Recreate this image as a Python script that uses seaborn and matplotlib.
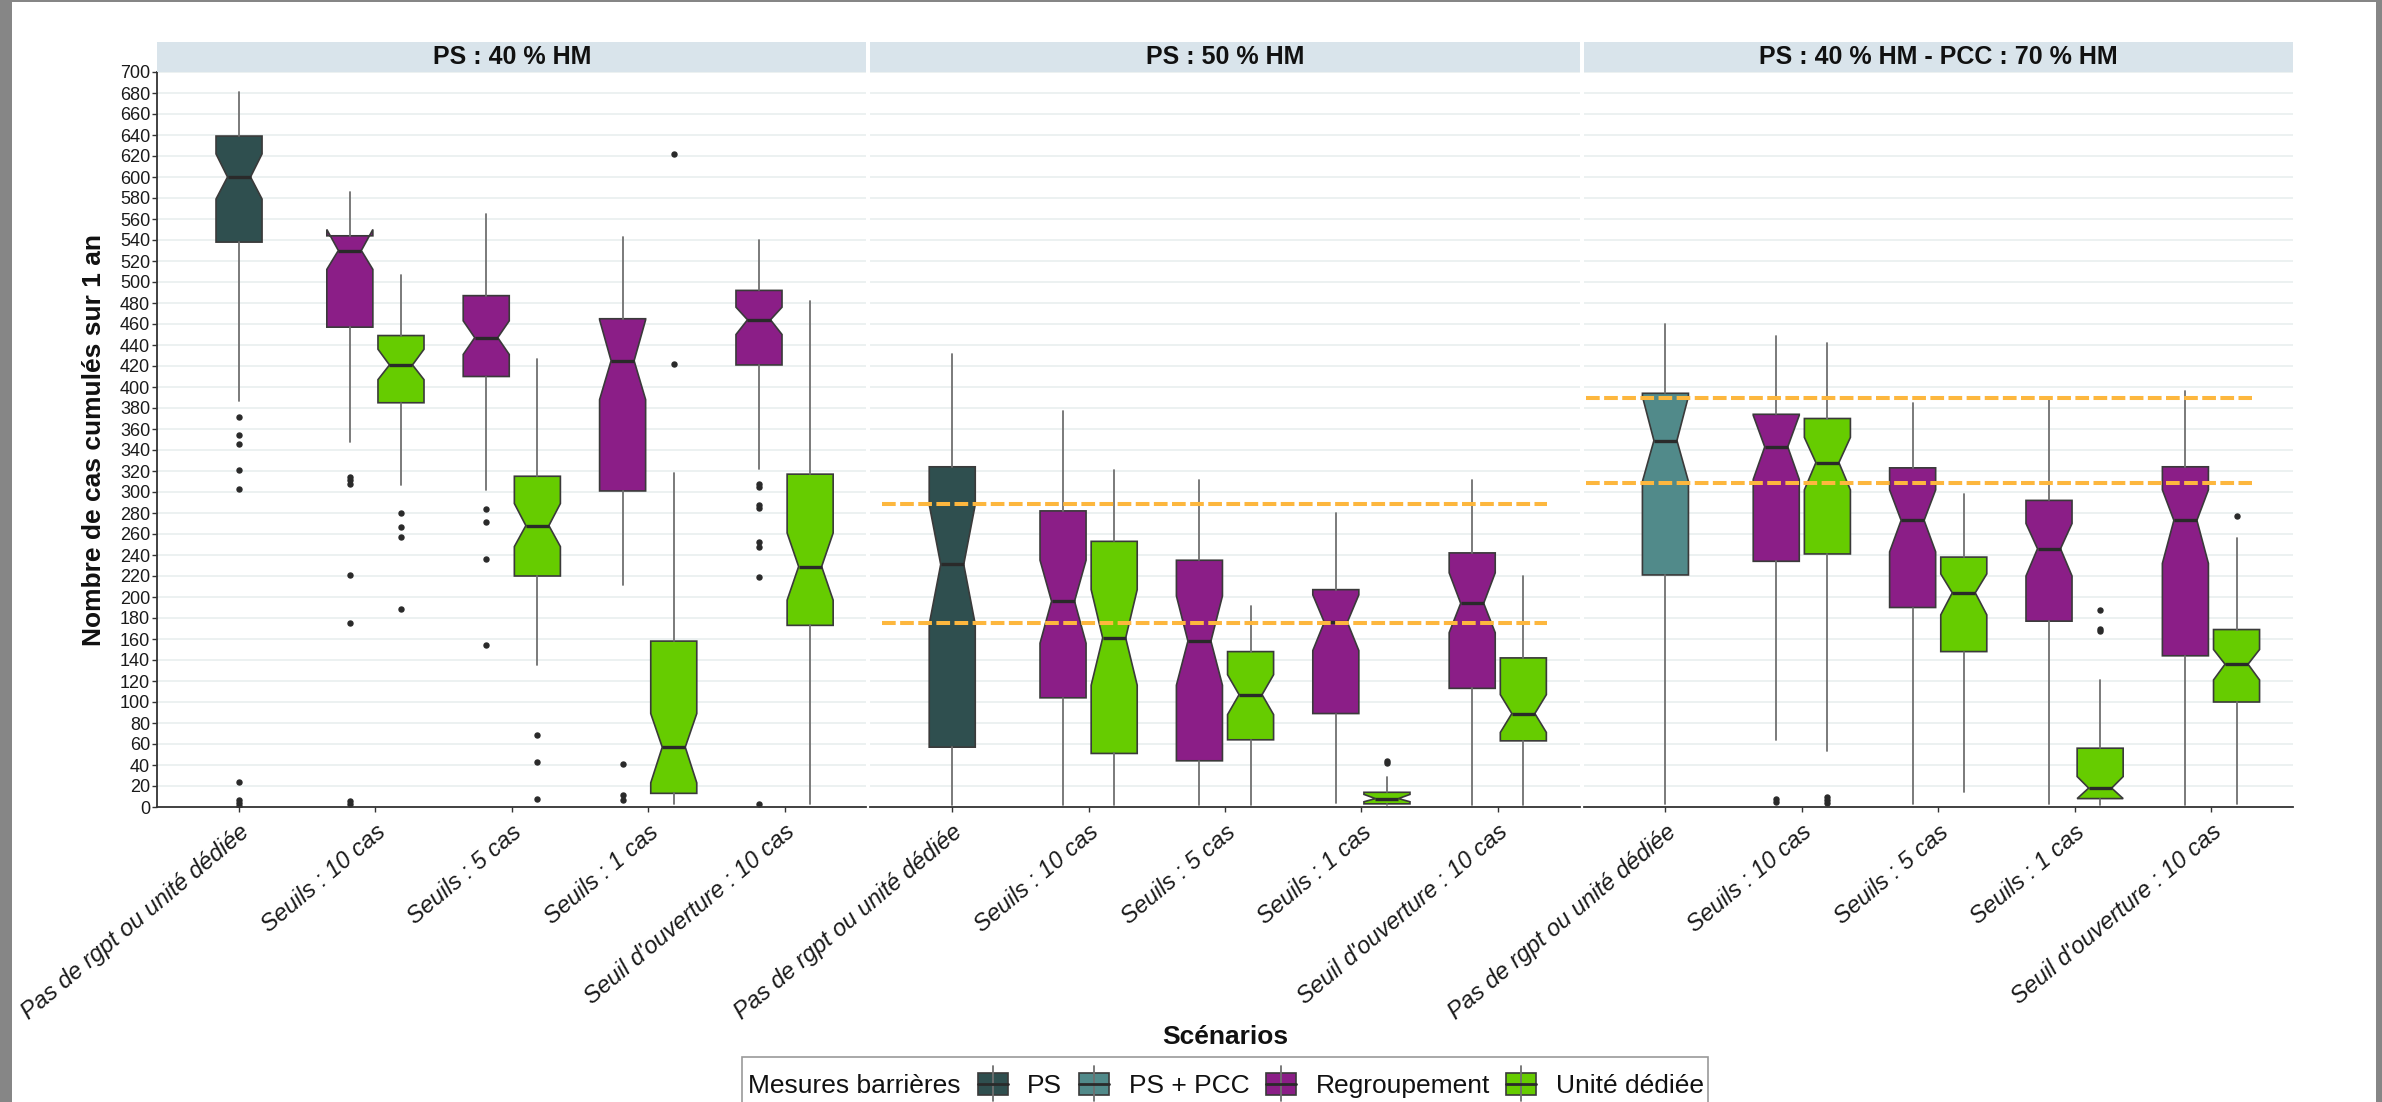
import matplotlib
matplotlib.use("Agg")
import matplotlib.pyplot as plt
from matplotlib.patches import Rectangle
from matplotlib.lines import Line2D
import numpy as np
import pandas as pd
import seaborn as sns

# ---------------------------------------------------------------- data
panel_titles = ["PS : 40 % HM", "PS : 50 % HM", "PS : 40 % HM - PCC : 70 % HM"]
scenarios = ["Pas de rgpt ou unité dédiée", "Seuils : 10 cas", "Seuils : 5 cas",
             "Seuils : 1 cas", "Seuil d'ouverture : 10 cas"]
mesures = ["PS", "PS + PCC", "Regroupement", "Unité dédiée"]
mesure_colors = ["#2F4F4F", "#518A8A", "#8B1E87", "#66CC00"]

# one entry per box: reference box, then Regroupement / Unité dédiée per scenario
box_panel = [0] * 9 + [1] * 9 + [2] * 9
box_scenario = [0, 1, 1, 2, 2, 3, 3, 4, 4] * 3
box_mesure = (["PS"] + ["Regroupement", "Unité dédiée"] * 4) * 2 \
    + ["PS + PCC"] + ["Regroupement", "Unité dédiée"] * 4

box_whislo = [387, 348, 307, 302, 135, 211, 3, 322, 3,
              2, 2, 2, 2, 2, 4, 2, 2, 2,
              3, 64, 53, 3, 14, 3, 2, 2, 3]
box_q1 = [538, 457, 385, 410, 220, 301, 13, 421, 173,
          57, 104, 51, 44, 64, 89, 3, 113, 63,
          221, 234, 241, 190, 148, 177, 8, 144, 100]
box_cilo = [579, 512, 407, 431, 248, 388, 23, 450, 197,
            174, 156, 116, 116, 88, 149, 5, 166, 71,
            310, 312, 302, 243, 183, 220, 8, 232, 121]
box_med = [600, 530, 421, 447, 268, 425, 57, 464, 229,
           231, 196, 161, 158, 107, 176, 8, 194, 89,
           349, 343, 328, 273, 204, 246, 18, 273, 136]
box_cihi = [622, 550, 436, 463, 289, 464, 89, 476, 261,
            288, 235, 207, 201, 126, 202, 12, 223, 107,
            391, 373, 352, 302, 222, 270, 29, 302, 150]
box_q3 = [639, 544, 449, 487, 315, 465, 158, 492, 317,
          324, 282, 253, 235, 148, 207, 14, 242, 142,
          394, 374, 370, 323, 238, 292, 56, 324, 169]
box_whishi = [681, 586, 507, 565, 427, 543, 318, 540, 482,
              431, 377, 321, 311, 191, 280, 29, 311, 220,
              460, 449, 442, 385, 298, 388, 121, 396, 256]
box_fliers = [
    [371, 354, 346, 321, 303, 24, 7, 4, 1],
    [314, 311, 308, 221, 175, 6, 3],
    [280, 267, 257, 189],
    [284, 271, 236, 154],
    [69, 43, 8],
    [41, 11, 7],
    [622, 422],
    [308, 305, 288, 285, 252, 248, 219, 3],
    [],
    [], [], [], [], [], [], [44, 42], [], [],
    [], [8, 5], [10, 7, 4], [], [], [], [188, 170, 168], [], [277],
]

# dashed reference levels (notch bounds of the reference scenario)
ref_levels = [[], [289, 175], [390, 309]]

y_ticks = list(range(0, 701, 20))

# ---------------------------------------------------------------- frame
W, H = 2382, 1102
BOX_W = 0.3375
DODGE = 0.1875
palette = dict(zip(mesures, mesure_colors))

df = pd.DataFrame({
    "panel": [panel_titles[i] for i in box_panel],
    "scenario": [scenarios[i] for i in box_scenario],
    "mesure": box_mesure,
    "whislo": box_whislo, "q1": box_q1, "cilo": box_cilo, "med": box_med,
    "cihi": box_cihi, "q3": box_q3, "whishi": box_whishi,
    "fliers": box_fliers,
})

sns.set_theme(style="white")
plt.rcParams["font.family"] = ["Liberation Sans", "DejaVu Sans"]

EDGE = "#3a3a3a"
WHISK = "#707070"
MED = "#2a2a2a"
DASH = "#FDB73E"


def draw_boxes(data, **kws):
    ax = plt.gca()
    stats, pos, cols = [], [], []
    for _, r in data.iterrows():
        x = scenarios.index(r["scenario"]) + 1
        if (data["scenario"] == r["scenario"]).sum() > 1:
            x += -DODGE if r["mesure"] == "Regroupement" else DODGE
        stats.append(dict(med=r["med"], q1=r["q1"], q3=r["q3"],
                          whislo=r["whislo"], whishi=r["whishi"],
                          cilo=r["cilo"], cihi=r["cihi"],
                          fliers=np.asarray(r["fliers"], dtype=float)))
        pos.append(x)
        cols.append(palette[r["mesure"]])
    art = ax.bxp(stats, positions=pos, widths=BOX_W, shownotches=True,
                 patch_artist=True, showcaps=False, manage_ticks=False,
                 boxprops=dict(edgecolor=EDGE, linewidth=1.2),
                 whiskerprops=dict(color=WHISK, linewidth=1.3),
                 medianprops=dict(color=MED, linewidth=2.4),
                 flierprops=dict(marker="o", markersize=3.6, linestyle="none",
                                 markerfacecolor="#2a2a2a",
                                 markeredgecolor="#2a2a2a"))
    for b, c in zip(art["boxes"], cols):
        b.set_facecolor(c)

    p = panel_titles.index(data["panel"].iloc[0])
    if ref_levels[p]:
        x0, x1 = {1: (0.486, 5.358), 2: (0.418, 5.30)}[p]
        ax.hlines(ref_levels[p], x0, x1, colors=DASH, linewidths=2.9,
                  linestyles=(0, (3.4, 1.1)), zorder=6)


g = sns.FacetGrid(df, col="panel", col_order=panel_titles, sharey=True,
                  sharex=True, height=6, aspect=1.0, despine=False)
g.map_dataframe(draw_boxes)

fig = g.figure
fig.set_size_inches(W / 100, H / 100)
fig.patch.set_facecolor("white")

lefts = [157.2, 870.4, 1583.6]
pw, top, bottom = 709.2, 72.0, 807.0
strip_h = 30.0
for i, ax in enumerate(g.axes.flat):
    ax.set_position([lefts[i] / W, 1 - bottom / H, pw / W, (bottom - top) / H])
    ax.set_xlim(0.4, 5.6)
    ax.set_ylim(0, 700)
    ax.set_title("")
    ax.set_xlabel("")
    ax.set_ylabel("")
    ax.set_facecolor("white")
    ax.set_yticks(y_ticks)
    ax.grid(axis="y", color="#EAF0F0", linewidth=1.3)
    ax.grid(axis="x", visible=False)
    ax.set_axisbelow(True)
    for s in ["top", "right", "left"]:
        ax.spines[s].set_visible(False)
    ax.spines["bottom"].set_color("#333333")
    ax.spines["bottom"].set_linewidth(1.3)
    ax.set_xticks(range(1, 6))
    ax.set_xticklabels(scenarios, rotation=40, ha="right",
                       rotation_mode="anchor", fontstyle="italic",
                       fontsize=17, color="#1a1a1a")
    ax.tick_params(axis="x", bottom=True, length=3.6, width=1.0,
                   color="#333333", pad=6)
    if i == 0:
        ax.spines["left"].set_visible(True)
        ax.spines["left"].set_color("#333333")
        ax.spines["left"].set_linewidth(1.3)
        ax.set_yticklabels([str(v) for v in y_ticks])
        ax.tick_params(axis="y", left=True, labelleft=True, length=3.6,
                       width=1.0, color="#333333", pad=1.5, labelsize=13,
                       labelcolor="#1a1a1a")
        for lab in ax.get_yticklabels():
            lab.set_visible(True)
        ax.set_ylabel("Nombre de cas cumulés sur 1 an", fontsize=19,
                      fontweight="bold", color="#111111")
        ax.yaxis.set_label_coords(-(157.2 - 106) / pw, 0.5)
    else:
        ax.tick_params(axis="y", left=False, labelleft=False)
    # facet strip
    sh = strip_h / (bottom - top)
    ax.add_patch(Rectangle((0, 1), 1, sh, transform=ax.transAxes,
                           facecolor="#D9E4EB", edgecolor="none",
                           clip_on=False, zorder=3))
    ax.text(0.5, 1 + sh / 2, panel_titles[i], transform=ax.transAxes,
            ha="center", va="center", fontsize=18, fontweight="bold",
            color="#111111", zorder=4)

# ---------------------------------------------------------------- overlay (pixel units)
ov = fig.add_axes([0, 0, 1, 1], zorder=10)
ov.set_xlim(0, W)
ov.set_ylim(H, 0)
ov.axis("off")
ov.patch.set_alpha(0)

ov.text(1225, 1044, "Scénarios", ha="center", va="baseline", fontsize=19,
        fontweight="bold", color="#111111")

# legend
ov.add_patch(Rectangle((742, 1057), 966, 80, facecolor="white",
                       edgecolor="#9a9a9a", linewidth=1.2))
ov.text(748, 1093, "Mesures barrières", ha="left", va="baseline",
        fontsize=19, color="#111111")
key_x = [977.5, 1079, 1266, 1506]
text_x = [1026.6, 1129, 1315.6, 1556]
for m, kx, tx in zip(mesures, key_x, text_x):
    cx = kx + 15
    ov.add_line(Line2D([cx, cx], [1066, 1101], color=WHISK, linewidth=1.3))
    ov.add_patch(Rectangle((kx, 1073), 30, 22, facecolor=palette[m],
                           edgecolor=EDGE, linewidth=1.2))
    ov.add_line(Line2D([kx, kx + 30], [1084, 1084], color=MED, linewidth=2.0))
    ov.text(tx, 1093, m, ha="left", va="baseline", fontsize=19,
            color="#111111")

# surrounding window edge
for rect in [(0, 0, 12, H), (0, 0, W, 2), (2376, 0, 6, H)]:
    ov.add_patch(Rectangle(rect[:2], rect[2], rect[3], facecolor="#868686",
                           edgecolor="none"))

fig.savefig("out.png", dpi=100, facecolor="white")
